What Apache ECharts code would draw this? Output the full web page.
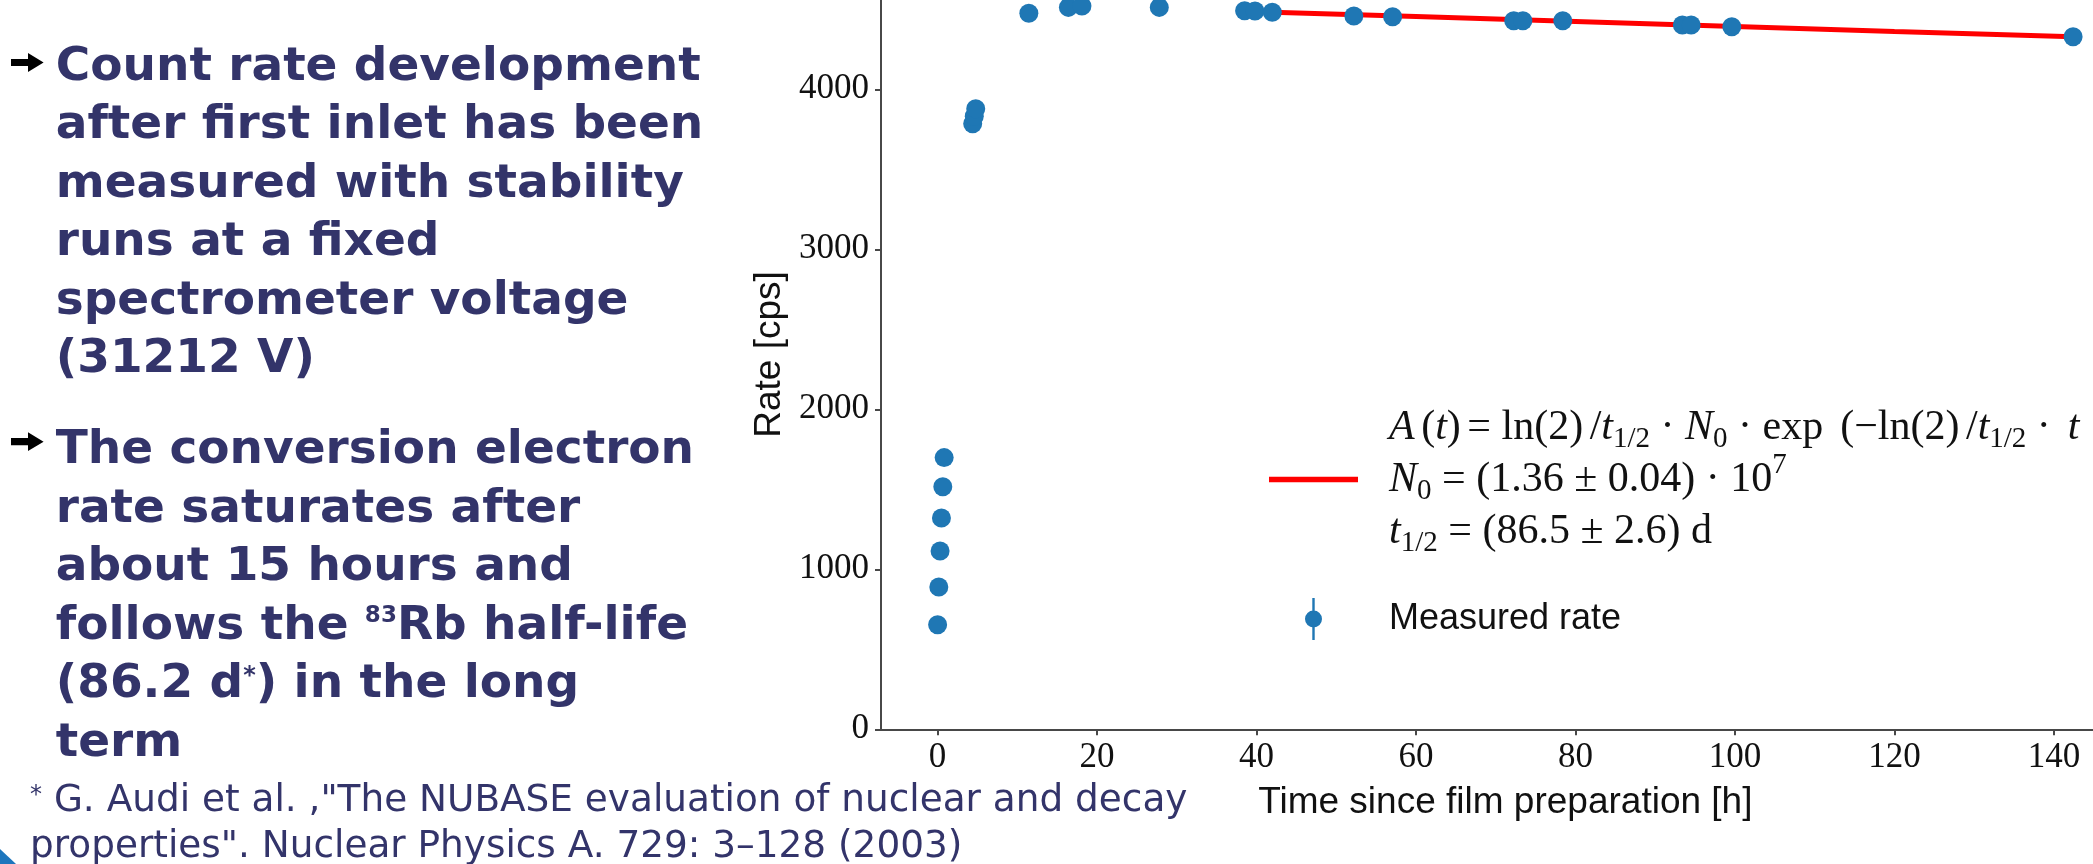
<!DOCTYPE html>
<html>
<head>
<meta charset="utf-8">
<script src="https://cdn.jsdelivr.net/npm/echarts@6/dist/echarts.min.js"></script>
<style>html,body{margin:0;padding:0;background:#fff;}#c{width:2093px;height:864px;}</style>
</head>
<body>
<div id="c"></div>
<script>
// ---- data ----
const time = [0, 0.15, 0.31, 0.48, 0.65, 0.82, 4.4, 4.6, 4.78, 11.44, 16.4, 18.1, 27.8, 38.5, 39.8, 41.97, 52.2, 57.06, 72.25, 73.4, 78.4, 93.4, 94.5, 99.6, 142.4];
const rate = [654, 889, 1114, 1321, 1516, 1698, 3785, 3832, 3878, 4475, 4512, 4520, 4512, 4491, 4489, 4481, 4458, 4454, 4429, 4429, 4429, 4402, 4402, 4391, 4329];
const fitTime = [41.97, 60, 80, 100, 120, 142.4];
const fitRate = [4482, 4455, 4424, 4393, 4362, 4329];
const xTickValues = [0, 20, 40, 60, 80, 100, 120, 140];
const yTickValues = [0, 1000, 2000, 3000, 4000];

const block1 = ['Count rate development', 'after first inlet has been', 'measured with stability', 'runs at a fixed', 'spectrometer voltage', '(31212 V)'];
const block2 = ['The conversion electron', 'rate saturates after', 'about 15 hours and', 'follows the {sup|83}Rb half-life', '(86.2 d{ast|*}) in the long', 'term'];
const foot = ['{fa|*}{f| G. Audi et al. ,"The NUBASE evaluation of nuclear and decay}', '{f|properties". Nuclear Physics A. 729: 3\u2013128 (2003)}'];

const FIT_NAME = 'fit';
const MEAS_NAME = 'Measured rate';
const fitLegend = [
  '{i|A}{g| }{r|(}{i|t}{r|)}{g| }{r|= ln(2)}{g| }{r|/}{i|t}{sub|1/2}{r| \u00b7 }{i|N}{sub|0}{r| \u00b7 exp}{g| }{r| (\u2212ln(2)}{g| }{r|/}{i|t}{sub|1/2}{r| \u00b7 }{g| }{i|t}',
  '{i|N}{sub|0}{r| = (1.36 \u00b1 0.04) \u00b7 10}{sup|7}',
  '{i|t}{sub|1/2}{r| = (86.5 \u00b1 2.6) d}'
];

const NAVY = '#33346a';
const AX = '#484848';
const TXT = '#111111';
const SERIF = "'Liberation Serif'";
const SANS = "'Liberation Sans'";
const DJV = "'DejaVu Sans'";

const scatterData = time.map((t, i) => [t, rate[i]]);
const fitData = fitTime.map((t, i) => [t, fitRate[i]]);

const chart = echarts.init(document.getElementById('c'), null, {renderer: 'canvas', width: 2093, height: 864});

const richLegend = {
  r: {fontFamily: SERIF, fontSize: 42, fontWeight: 'normal', lineHeight: 52, color: TXT},
  g: {fontFamily: SERIF, fontSize: 26, fontWeight: 'normal', lineHeight: 52, color: TXT},
  i: {fontFamily: SERIF, fontSize: 42, fontStyle: 'italic', fontWeight: 'normal', lineHeight: 52, color: TXT},
  sub: {fontFamily: SERIF, fontSize: 29, fontWeight: 'normal', lineHeight: 52, color: TXT, padding: [24, 0, 0, 0]},
  sup: {fontFamily: SERIF, fontSize: 29, fontWeight: 'normal', lineHeight: 52, color: TXT, padding: [0, 0, 28, 0]},
  m: {fontFamily: SANS, fontSize: 36, fontWeight: 'normal', lineHeight: 52, color: TXT}
};

function arrow(cy) {
  return {type: 'polygon', shape: {points: [[11, cy - 3.6], [28, cy - 3.6], [28, cy - 9.4], [43.6, cy], [28, cy + 9.4], [28, cy + 3.6], [11, cy + 3.6]]}, style: {fill: '#000'}};
}

const option = {
  animation: false,
  backgroundColor: '#ffffff',
  grid: {left: 881, top: -20.3, width: 1248.7, height: 749.6, containLabel: false, outerBoundsMode: 'none'},
  xAxis: {
    type: 'value', min: -7.1, max: 149.5,
    name: 'Time since film preparation [h]', nameLocation: 'middle', nameGap: 55,
    nameTextStyle: {fontFamily: SANS, fontSize: 37, color: TXT},
    axisLine: {show: true, onZero: false, lineStyle: {color: AX, width: 2}},
    axisTick: {show: true, length: 6, lineStyle: {color: AX, width: 2}, customValues: xTickValues},
    axisLabel: {show: true, margin: 11, fontFamily: SERIF, fontSize: 35, color: TXT, customValues: xTickValues,
      formatter: function (v) { return String(v); }},
    splitLine: {show: false}
  },
  yAxis: {
    type: 'value', min: 0, max: 4685,
    name: 'Rate [cps]', nameLocation: 'middle', nameGap: 67,
    nameTextStyle: {fontFamily: SANS, fontSize: 37, color: TXT},
    axisLine: {show: true, onZero: false, lineStyle: {color: AX, width: 2}},
    axisTick: {show: true, length: 6, lineStyle: {color: AX, width: 2}, customValues: yTickValues},
    axisLabel: {show: true, margin: 12, fontFamily: SERIF, fontSize: 35, color: TXT, customValues: yTickValues,
      formatter: function (v) { return String(v); }},
    splitLine: {show: false}
  },
  legend: {
    orient: 'vertical', left: 1269, top: 401, padding: 0, itemGap: 40,
    itemWidth: 89, itemHeight: 42, selectedMode: false, align: 'left',
    data: [
      {name: FIT_NAME, icon: 'path://M0,18.2L89,18.2L89,23.8L0,23.8Z'},
      {name: MEAS_NAME, icon: 'path://M0,21L0.01,21L0,21.01Z M89,21L88.99,21L89,21.01Z M43.3,0L45.7,0L45.7,42L43.3,42Z M36,21A8.5,8.5,0,1,1,53,21A8.5,8.5,0,1,1,36,21Z'}
    ],
    formatter: function (name) {
      if (name === FIT_NAME) return fitLegend.join('\n');
      return '{m|' + name + '}';
    },
    textStyle: {padding: [0, 0, 0, 26], color: TXT, rich: richLegend}
  },
  series: [
    {
      name: FIT_NAME, type: 'line', data: fitData, showSymbol: false, symbol: 'none',
      lineStyle: {color: '#ff0000', width: 5}, itemStyle: {color: '#ff0000'}, z: 2, silent: true
    },
    {
      name: MEAS_NAME, type: 'scatter', data: scatterData, symbol: 'circle', symbolSize: 19,
      itemStyle: {color: '#1f77b4', opacity: 1}, z: 3, silent: true
    }
  ],
  graphic: [
    arrow(62.5),
    arrow(441.7),
    {type: 'text', x: 55.7, y: 38.5, style: {text: block1.join('\n'), fontFamily: DJV, fontSize: 47, fontWeight: 'bold', fill: NAVY, lineHeight: 58.5, verticalAlign: 'top'}},
    {type: 'text', x: 55.7, y: 421.6, style: {
      text: block2.join('\n'), fontFamily: DJV, fontSize: 47, fontWeight: 'bold', fill: NAVY, lineHeight: 58.5, verticalAlign: 'top',
      rich: {
        sup: {fontFamily: DJV, fontSize: 23, fontWeight: 'bold', fill: NAVY, lineHeight: 58.5, padding: [0, 0, 21, 0]},
        ast: {fontFamily: DJV, fontSize: 24, fontWeight: 'bold', fill: NAVY, lineHeight: 58.5, padding: [0, 0, 16, 0]}
      }
    }},
    {type: 'text', x: 30, y: 778, style: {
      text: foot.join('\n'), fontFamily: DJV, fontSize: 37.4, fill: NAVY, lineHeight: 46, verticalAlign: 'top',
      rich: {
        f: {fontFamily: DJV, fontSize: 37.4, fontWeight: 'normal', fill: NAVY, lineHeight: 46},
        fa: {fontFamily: DJV, fontSize: 24, fontWeight: 'normal', fill: NAVY, lineHeight: 46, padding: [0, 0, 11, 0]}
      }
    }},
    {type: 'polygon', shape: {points: [[0, 849], [16, 864], [0, 864]]}, style: {fill: '#1d76bd'}}
  ]
};
chart.setOption(option);
</script>
</body>
</html>
